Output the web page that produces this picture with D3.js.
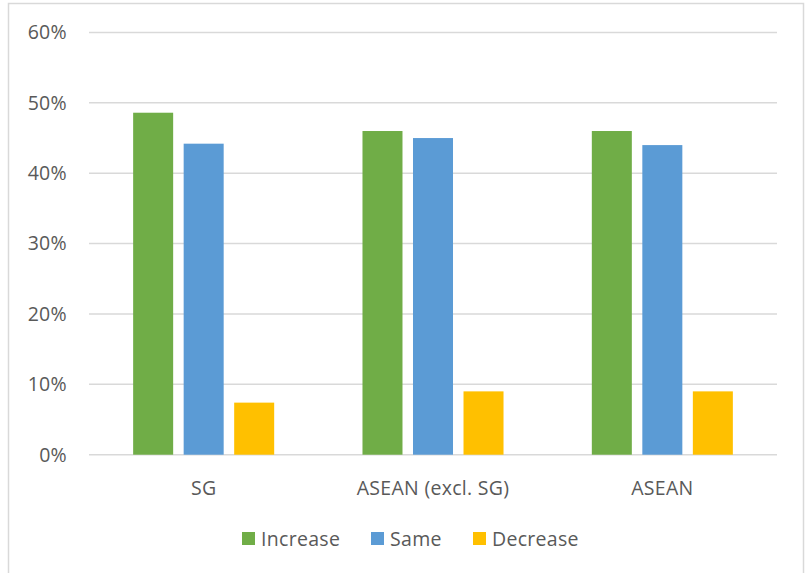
<!doctype html>
<html lang="en">
<head>
    <meta charset="utf-8" />
    <title>Chart</title>
    <script src="https://d3js.org/d3.v7.min.js"></script>
    <style>
        body { margin: 0; background: #fff; }
        text { font-family: "Open Sans", Lato, "Liberation Sans", sans-serif; fill: #595959; letter-spacing: 0.3px; }
    </style>
</head>
<body>
    <div id="chart"></div>
    <script>
        // data
        const categories = ["SG", "ASEAN (excl. SG)", "ASEAN"]
        const seriesNames = ["Increase", "Same", "Decrease"]
        const increase = [0.486, 0.46, 0.46]
        const same = [0.442, 0.45, 0.44]
        const decrease = [0.074, 0.09, 0.09]
        const yTicks = [0, 0.1, 0.2, 0.3, 0.4, 0.5, 0.6]
        const colors = ["#70AD47", "#5B9BD5", "#FFC000"]

        const values = [increase, same, decrease]

        const width = 806, height = 573
        const svg = d3.select("#chart").append("svg")
            .attr("width", width)
            .attr("height", height)

        // chart frame
        svg.append("rect")
            .attr("x", 8.5).attr("y", 3.5)
            .attr("width", 795).attr("height", 580)
            .attr("fill", "#fff")
            .attr("stroke", "#d9d9d9")
            .attr("stroke-width", 1.5)

        const plot = { left: 89, right: 777, top: 32.5, bottom: 454.7 }

        const y = d3.scaleLinear().domain([0, 0.6]).range([plot.bottom, plot.top])
        const x0 = d3.scaleBand().domain(categories).range([plot.left, plot.right]).padding(0)
        const x1 = d3.scaleBand().domain(seriesNames).range([0, x0.bandwidth()])
            .paddingInner(0.208).paddingOuter(0.874)

        // gridlines
        svg.append("g").selectAll("line")
            .data(yTicks)
            .join("line")
            .attr("x1", plot.left).attr("x2", plot.right)
            .attr("y1", d => y(d)).attr("y2", d => y(d))
            .attr("stroke", "#d9d9d9")
            .attr("stroke-width", 1.5)

        // y tick labels
        svg.append("g").selectAll("text")
            .data(yTicks)
            .join("text")
            .attr("x", 67)
            .attr("y", d => y(d))
            .attr("dy", "0.35em")
            .attr("text-anchor", "end")
            .attr("font-size", 19.5)
            .text(d => d3.format(".0%")(d))

        // bars
        const groups = svg.append("g").selectAll("g")
            .data(categories)
            .join("g")
            .attr("transform", d => `translate(${x0(d)},0)`)

        groups.selectAll("rect")
            .data((c, i) => seriesNames.map((s, j) => ({ s, v: values[j][i], j })))
            .join("rect")
            .attr("x", d => x1(d.s))
            .attr("width", x1.bandwidth())
            .attr("y", d => y(d.v))
            .attr("height", d => y(0) - y(d.v))
            .attr("fill", d => colors[d.j])

        // category labels
        svg.append("g").selectAll("text")
            .data(categories)
            .join("text")
            .attr("x", d => x0(d) + x0.bandwidth() / 2)
            .attr("y", 495)
            .attr("text-anchor", "middle")
            .attr("font-size", 19.5)
            .text(d => d)

        // legend
        const legendX = [242, 371, 473]
        const legend = svg.append("g").selectAll("g")
            .data(seriesNames)
            .join("g")
            .attr("transform", (d, i) => `translate(${legendX[i]},532)`)
        legend.append("rect")
            .attr("width", 13).attr("height", 13)
            .attr("fill", (d, i) => colors[i])
        legend.append("text")
            .attr("x", 19).attr("y", 14)
            .attr("font-size", 19.5)
            .text(d => d)
    </script>
</body>
</html>
